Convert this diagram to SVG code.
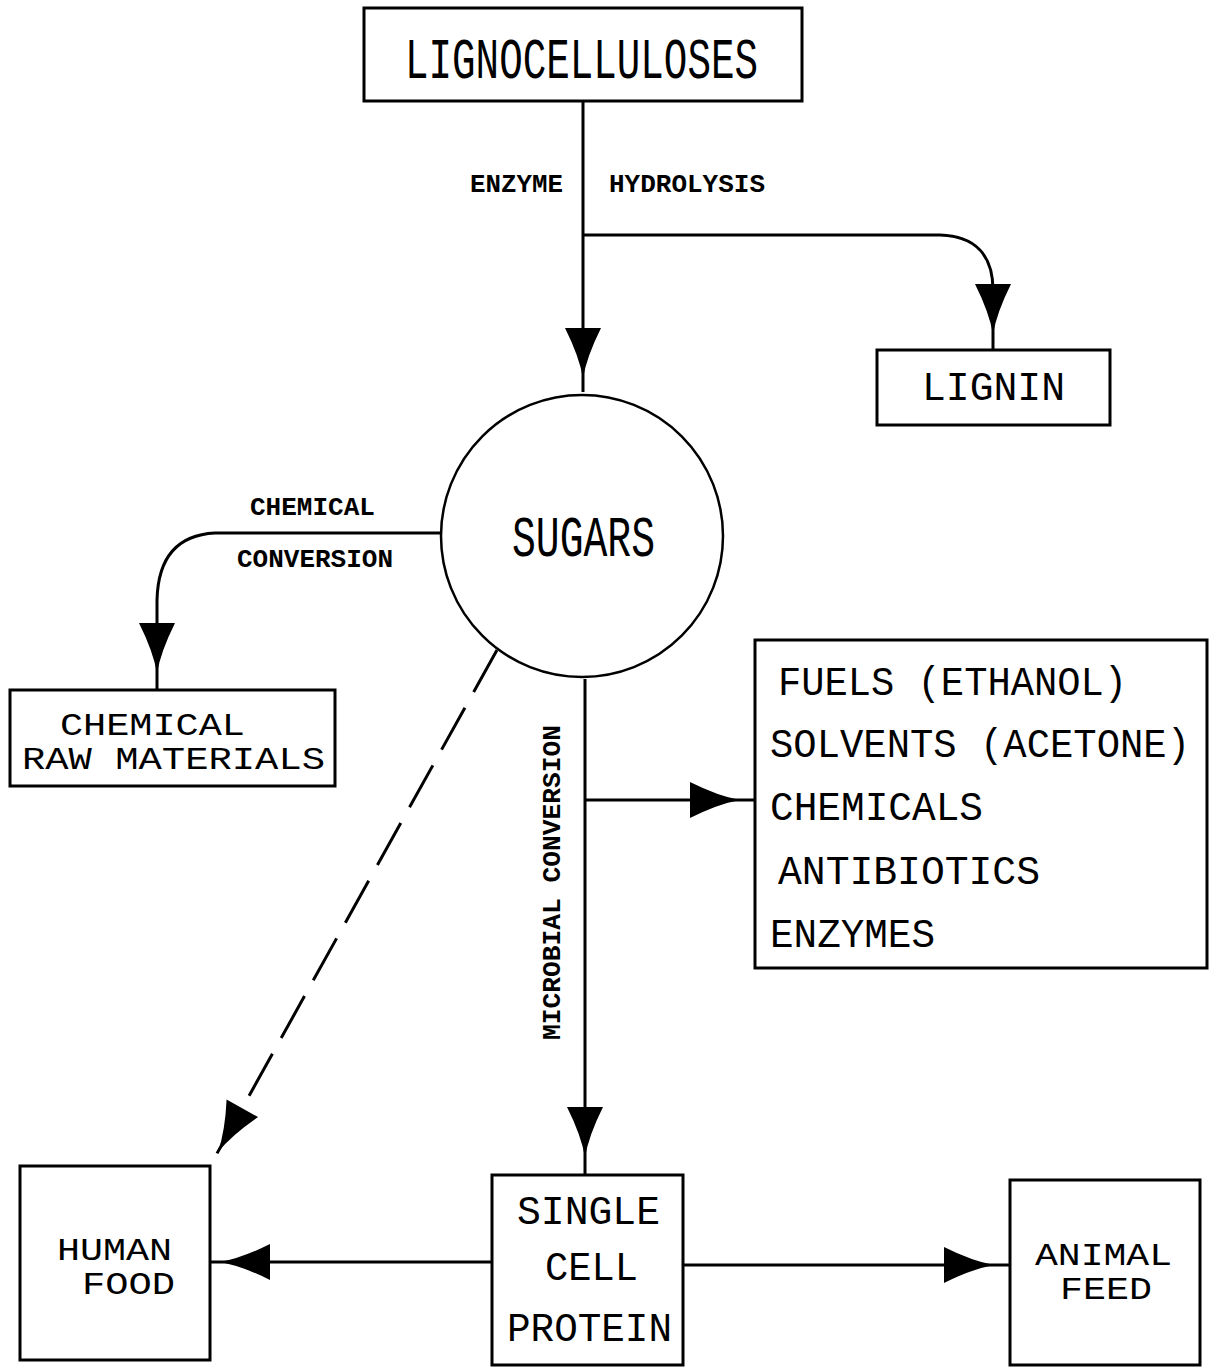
<svg xmlns="http://www.w3.org/2000/svg" width="1210" height="1370" viewBox="0 0 1210 1370">
<style>
.box{fill:none;stroke:#000;stroke-width:3}
.ln{fill:none;stroke:#000;stroke-width:3}
.t{font-family:"Liberation Mono","Courier New",monospace;fill:#000}
.big{font-size:58px}
.mid{font-size:40px}
.pair{font-size:31px}
.sm{font-size:26px;font-weight:bold}
</style>
<defs>
<path id="ah" d="M0,0 Q-22,-4 -50,-18 L-50,18 Q-22,4 0,0 Z" fill="#000"/>
</defs>
<rect width="1210" height="1370" fill="#fff"/>
<g id="connectors">
<path class="ln" d="M583,101 V392"/>
<path class="ln" d="M583,235 H940 C975,236 993,255 993,290 V350"/>
<path class="ln" d="M441,533 H215 C175,535 158,560 157,600 V690"/>
<path class="ln" d="M497,650 L210,1166" stroke-dasharray="48 18"/>
<path class="ln" d="M585,679 V1175"/>
<path class="ln" d="M585,800 H755"/>
<path class="ln" d="M492,1262 H210"/>
<path class="ln" d="M683,1265 H1010"/>
<use href="#ah" transform="translate(583,378) rotate(90)"/>
<use href="#ah" transform="translate(993,334) rotate(90)"/>
<use href="#ah" transform="translate(157,673) rotate(90)"/>
<use href="#ah" transform="translate(585,1157) rotate(90)"/>
<use href="#ah" transform="translate(740,800)"/>
<use href="#ah" transform="translate(994,1265)"/>
<use href="#ah" transform="translate(220,1262) rotate(180)"/>
<use href="#ah" transform="translate(218,1152) rotate(119.1)"/>
<text class="t sm" x="470" y="192" textLength="93" lengthAdjust="spacingAndGlyphs">ENZYME</text>
<text class="t sm" x="609" y="192" textLength="156" lengthAdjust="spacingAndGlyphs">HYDROLYSIS</text>
<text class="t sm" x="250" y="515" textLength="125" lengthAdjust="spacingAndGlyphs">CHEMICAL</text>
<text class="t sm" x="237" y="567" textLength="156" lengthAdjust="spacingAndGlyphs">CONVERSION</text>
<text class="t sm" transform="translate(560,1040) rotate(-90)" textLength="315" lengthAdjust="spacingAndGlyphs">MICROBIAL CONVERSION</text>
</g>
<g id="lignocelluloses">
<rect class="box" x="364" y="8" width="438" height="93"/>
<text class="t big" x="405" y="78" textLength="353" lengthAdjust="spacingAndGlyphs">LIGNOCELLULOSES</text>
</g>
<g id="lignin">
<rect class="box" x="877" y="350" width="233" height="75"/>
<text class="t mid" x="922" y="400" textLength="143" lengthAdjust="spacingAndGlyphs">LIGNIN</text>
</g>
<g id="sugars">
<circle cx="582" cy="536" r="141" fill="none" stroke="#000" stroke-width="2.5"/>
<text class="t big" x="512" y="556" textLength="143" lengthAdjust="spacingAndGlyphs">SUGARS</text>
</g>
<g id="chemical-raw-materials">
<rect class="box" x="10" y="690" width="325" height="96"/>
<text class="t pair" x="60" y="735" textLength="185" lengthAdjust="spacingAndGlyphs">CHEMICAL</text>
<text class="t pair" x="22" y="769" textLength="303" lengthAdjust="spacingAndGlyphs">RAW MATERIALS</text>
</g>
<g id="products">
<rect class="box" x="755" y="640" width="452" height="328"/>
<text class="t mid" x="778" y="695" textLength="349" lengthAdjust="spacingAndGlyphs">FUELS (ETHANOL)</text>
<text class="t mid" x="770" y="757" textLength="420" lengthAdjust="spacingAndGlyphs">SOLVENTS (ACETONE)</text>
<text class="t mid" x="770" y="820" textLength="213" lengthAdjust="spacingAndGlyphs">CHEMICALS</text>
<text class="t mid" x="778" y="884" textLength="262" lengthAdjust="spacingAndGlyphs">ANTIBIOTICS</text>
<text class="t mid" x="770" y="947" textLength="165" lengthAdjust="spacingAndGlyphs">ENZYMES</text>
</g>
<g id="human-food">
<rect class="box" x="20" y="1166" width="190" height="194"/>
<text class="t pair" x="57" y="1260" textLength="115" lengthAdjust="spacingAndGlyphs">HUMAN</text>
<text class="t pair" x="82" y="1294" textLength="93" lengthAdjust="spacingAndGlyphs">FOOD</text>
</g>
<g id="single-cell-protein">
<rect class="box" x="492" y="1175" width="191" height="190"/>
<text class="t mid" x="517" y="1224" textLength="143" lengthAdjust="spacingAndGlyphs">SINGLE</text>
<text class="t mid" x="545" y="1280" textLength="93" lengthAdjust="spacingAndGlyphs">CELL</text>
<text class="t mid" x="507" y="1341" textLength="165" lengthAdjust="spacingAndGlyphs">PROTEIN</text>
</g>
<g id="animal-feed">
<rect class="box" x="1010" y="1180" width="190" height="185"/>
<text class="t pair" x="1035" y="1265" textLength="137" lengthAdjust="spacingAndGlyphs">ANIMAL</text>
<text class="t pair" x="1060" y="1299" textLength="92" lengthAdjust="spacingAndGlyphs">FEED</text>
</g>
</svg>
